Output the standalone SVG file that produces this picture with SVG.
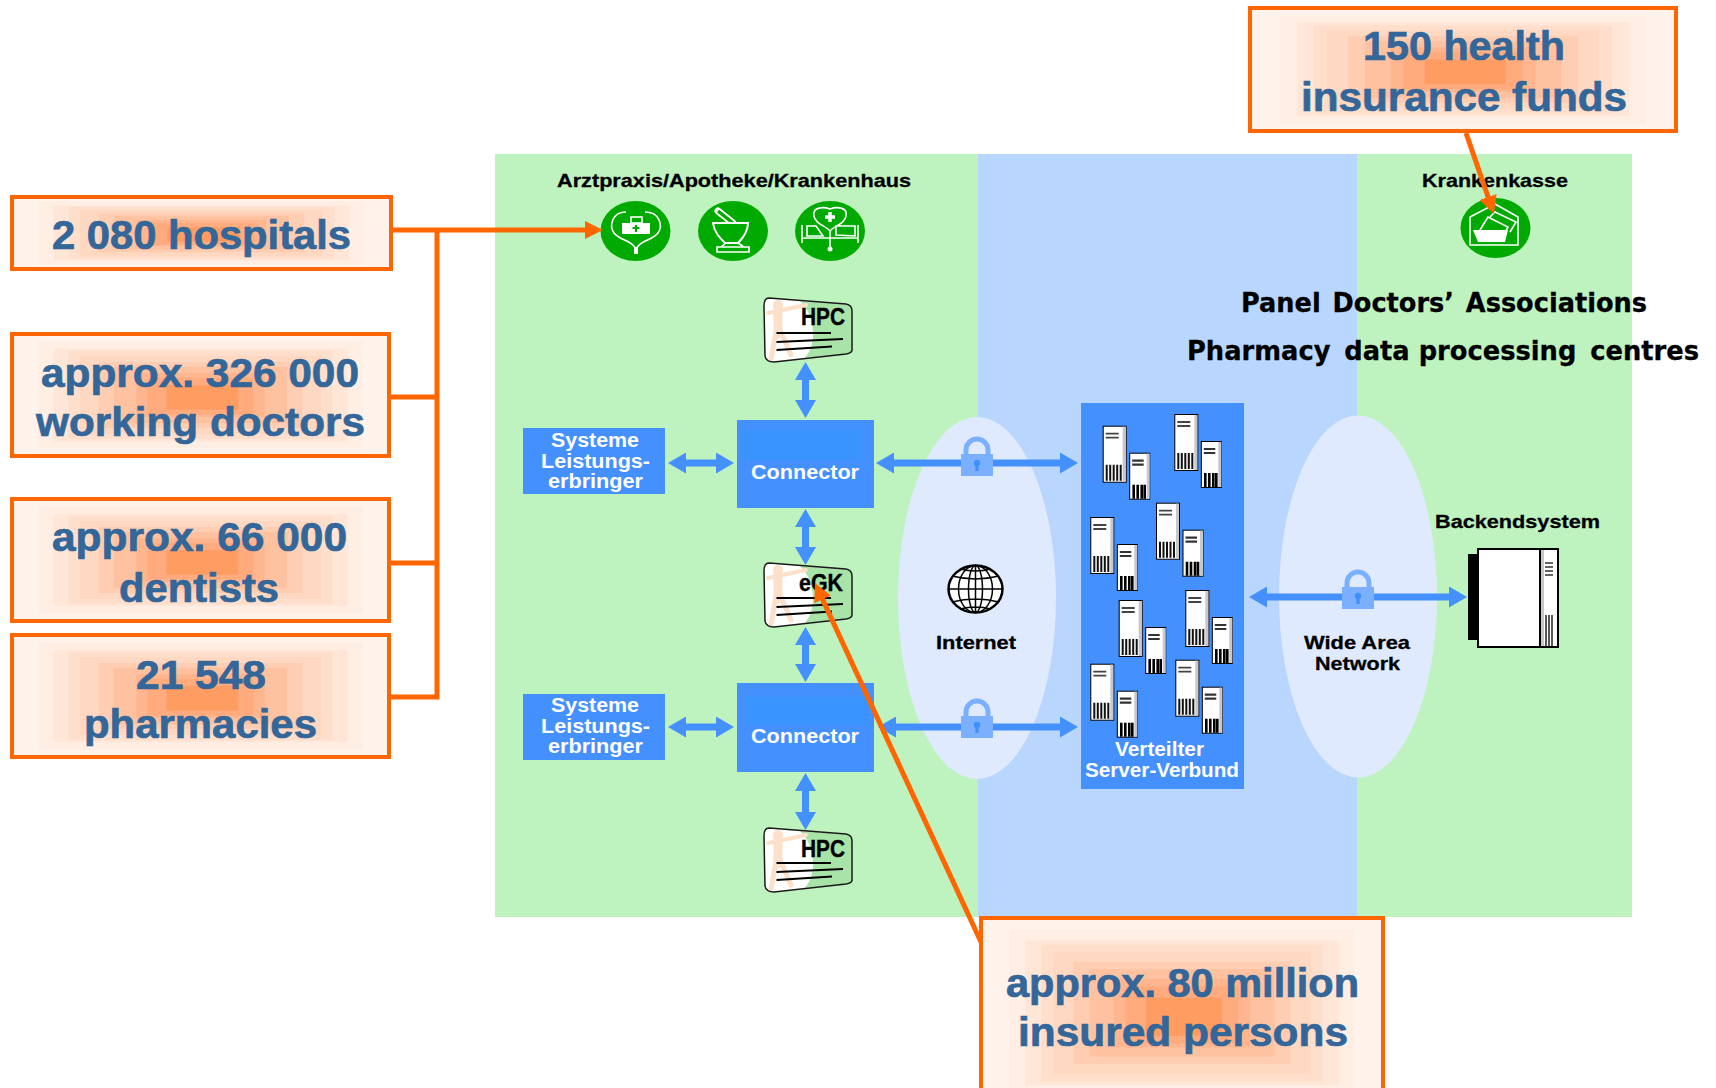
<svg xmlns="http://www.w3.org/2000/svg" width="1716" height="1088" viewBox="0 0 1716 1088">
<style>
text{font-family:"Liberation Sans",Arial,sans-serif;font-weight:700}
.call{font-size:41px;fill:#336699;stroke:#336699;stroke-width:.7px}
.lab{font-size:19px;fill:#000;stroke:#000;stroke-width:.3px}
.wh{font-size:20px;fill:#fff}
.card{font-size:24px;fill:#000;stroke:#000;stroke-width:.4px}
.dj{font-family:"DejaVu Sans",sans-serif;font-size:26px;fill:#000;stroke:#000;stroke-width:.3px}
.box{fill:none;stroke:#ff6600;stroke-width:4}
.blue{fill:#4490ff}
.bl{stroke:#4490ff;stroke-width:7;fill:none;marker-start:url(#ba);marker-end:url(#ba)}
.or{stroke:#ff6600;stroke-width:5;fill:none}
.ic{fill:none;stroke:#fff;stroke-width:1.6}
.iw{fill:#fff}
.ell{fill:#dfeafe}
.grn{fill:#00aa00}
</style>
<defs>
<marker id="ba" markerUnits="userSpaceOnUse" markerWidth="18" markerHeight="21" refX="8" refY="10.5" orient="auto-start-reverse"><path d="M0 0L18 10.5L0 21z" fill="#4490ff"/></marker>
<marker id="oa" markerUnits="userSpaceOnUse" markerWidth="18" markerHeight="18" refX="8" refY="9" orient="auto"><path d="M0 0L18 9L0 18z" fill="#ff6600"/></marker>
<symbol id="glow" viewBox="0 0 100 100" preserveAspectRatio="none">
<rect width="100" height="100" fill="#fff3ec"/>
<rect x="7" y="6" width="86" height="88" fill="#ffeee3"/>
<rect x="11" y="12" width="78" height="76" fill="#ffe6d7"/>
<rect x="15" y="14" width="70" height="72" fill="#ffdfcc"/>
<rect x="18" y="18" width="64" height="64" fill="#ffd8c2"/>
<rect x="23" y="23" width="54" height="54" fill="#ffcdb2"/>
<rect x="27" y="27" width="46" height="46" fill="#ffc2a0"/>
<rect x="33" y="32" width="34" height="36" fill="#ffb58e"/>
<rect x="36" y="36" width="28" height="30" fill="#ffab7e"/>
<rect x="41" y="42" width="19" height="20" fill="#ff9c62"/>
</symbol>
<g id="lock"><path d="M-11 0V-4A11 11 0 0 1 11 -4V0" fill="none" stroke="#7ab0ff" stroke-width="5"/><rect x="-16" y="0" width="32" height="22" fill="#7ab0ff"/><circle cy="9" r="3.2" fill="#3f8fff"/><rect x="-1.6" y="9" width="3.2" height="8" fill="#3f8fff"/></g>
<g id="cardbase">
<path d="M5 0L82 6Q88 7 88 13L88 52Q88 55 82 56L10 64Q2 64 1 58L0 8Q0 0 5 0Z" fill="#fff"/>
<path d="M36 3L82 6Q88 7 88 13L88 52Q88 55 82 56L41 60Q50 48 49 35Q48 14 36 3Z" fill="#a8e4a8"/>
<g fill="none" stroke="#fde0c9" stroke-linecap="round"><path d="M4 15L14 13L42 7" stroke-width="4"/><path d="M14 9V36" stroke-width="9"/><path d="M12 34L7 61M17 34L27 57" stroke-width="5"/></g>
<circle cx="14" cy="7" r="5" fill="#fde0c9"/>
<path d="M12.500 35H67M12.500 44L79 41M12.500 52L68 48.500" stroke="#000" stroke-width="2" fill="none"/>
<path d="M5 0L82 6Q88 7 88 13L88 52Q88 55 82 56L10 64Q2 64 1 58L0 8Q0 0 5 0Z" fill="none" stroke="#1a1a1a" stroke-width="1.500"/>
</g>
<g id="srv">
<rect x="0.500" y="0.500" width="23" height="56" fill="#fff" stroke="#000"/>
<rect x="20" y="1" width="3" height="55" fill="#c8c8c8"/>
<path d="M3 8H16M3 12H16" stroke="#444" stroke-width="1.800"/>
<path d="M4 39V55M7.500 39V55M11 39V55M14.500 39V55M18 39V55" stroke="#111" stroke-width="2"/>
<rect x="27" y="27.500" width="20" height="46" fill="#fff" stroke="#000"/>
<rect x="44" y="28" width="3" height="45" fill="#c8c8c8"/>
<path d="M29.500 35H41M29.500 39H41" stroke="#333" stroke-width="2.200"/>
<path d="M31 59V73M35 59V73M39 59V73M42 59V73" stroke="#000" stroke-width="2.600"/>
</g>
</defs>
<rect width="1716" height="1088" fill="#fff"/>
<g id="panels">
<rect x="495" y="154" width="483" height="763" fill="#bef2be"/>
<rect x="978" y="154" width="379" height="763" fill="#b9d6fe"/>
<rect x="1357" y="154" width="275" height="763" fill="#bef2be"/>
</g>
<g id="labels">
<text class="lab" x="557" y="187" textLength="354" lengthAdjust="spacingAndGlyphs">Arztpraxis/Apotheke/Krankenhaus</text>
<text class="lab" x="1422" y="187" textLength="146" lengthAdjust="spacingAndGlyphs">Krankenkasse</text>
<text class="dj" x="1241" y="312" textLength="406" lengthAdjust="spacingAndGlyphs">Panel <tspan dx="3">Doctors’</tspan> <tspan dx="3">Associations</tspan></text>
<text class="dj" x="1187" y="360" textLength="512" lengthAdjust="spacingAndGlyphs">Pharmacy <tspan dx="5">data</tspan> processing <tspan dx="5">centres</tspan></text>
</g>
<g id="ellipse-internet"><ellipse class="ell" cx="977" cy="598" rx="79" ry="181"/>
<g id="globe" fill="none" stroke="#000" stroke-width="1.500"><ellipse cx="975.500" cy="589" rx="27" ry="23.500" fill="#fff" stroke-width="2.500"/><ellipse cx="975.500" cy="589" rx="17" ry="23.500"/><ellipse cx="975.500" cy="589" rx="7" ry="23.500"/><path d="M975.500 565.500V612.500M948.500 589H1002.500M952 576Q975.500 582 999 576M952 602Q975.500 596 999 602M960 569Q975.500 573 991 569M960 609Q975.500 605 991 609"/></g>
<text class="lab" x="936" y="649" textLength="80" lengthAdjust="spacingAndGlyphs">Internet</text></g>
<g id="ellipse-wan"><ellipse class="ell" cx="1358" cy="596.500" rx="79" ry="181"/>
<text class="lab" x="1304" y="649" textLength="106" lengthAdjust="spacingAndGlyphs">Wide Area</text>
<text class="lab" x="1315" y="670" textLength="85" lengthAdjust="spacingAndGlyphs">Network</text></g>
<g id="icon-praxis"><ellipse class="grn" cx="635.500" cy="231" rx="35" ry="30"/>
<path class="ic" d="M626 212C612 212 609 226 614 233C620 241 636 241 636 252M645 212C660 212 663 226 658 233C652 241 636 241 636 252"/>
<rect class="iw" x="634" y="247" width="4" height="7"/>
<rect class="iw" x="622" y="223" width="28" height="11"/><rect class="ic" x="631" y="217" width="11" height="6"/>
<path d="M636 225V232M632.500 228H639.500" stroke="#00aa00" stroke-width="2.200"/></g>
<g id="icon-apotheke"><ellipse class="grn" cx="733" cy="231" rx="35" ry="30"/>
<path d="M718 211L733 223" stroke="#fff" stroke-width="7" stroke-linecap="round"/><path d="M718 211L733 223" stroke="#00aa00" stroke-width="3.500"/>
<path d="M713 223H748C748 232 743 238 738 243H725C720 238 714 232 713 223Z" fill="#00aa00" stroke="#fff" stroke-width="2"/>
<path class="ic" stroke-width="2" d="M726 243L721 247H744L738 243M717 247H749V252H717Z"/></g>
<g id="icon-krankenhaus"><ellipse class="grn" cx="830" cy="231" rx="35" ry="30"/>
<path class="ic" d="M830 209C822 206 812 208 814 216C815 224 826 226 830 231C834 226 845 224 846 216C848 208 838 206 830 209ZM830 231V248M802 225V243M858 225V243M802 238H858M807 226V236H823L816 226ZM836 226V235L855 236V226Z"/>
<circle class="iw" cx="830" cy="249" r="2.500"/>
<path d="M830 212V222M825 217H835" stroke="#fff" stroke-width="3.500"/></g>
<g id="icon-kasse"><ellipse class="grn" cx="1495.500" cy="228" rx="35" ry="30"/>
<path class="ic" d="M1470 245V217L1495 204L1518 217V245ZM1480 230L1488 217L1508 227L1503 236M1490 217L1495 212L1516 222L1510 232"/>
<path class="iw" d="M1473 230H1508L1505 242H1478Z"/></g>
<g id="card-hpc-1"><use href="#cardbase" x="764" y="298"/><text class="card" x="801" y="325" textLength="44" lengthAdjust="spacingAndGlyphs">HPC</text></g>
<g id="card-egk"><use href="#cardbase" x="764" y="563"/><text class="card" x="799" y="591" textLength="44" lengthAdjust="spacingAndGlyphs">eGK</text></g>
<g id="card-hpc-2"><use href="#cardbase" x="764" y="828"/><text class="card" x="801" y="857" textLength="44" lengthAdjust="spacingAndGlyphs">HPC</text></g>
<g id="systeme-1"><rect class="blue" x="523" y="428" width="142" height="66"/>
<text class="wh" x="551" y="447" textLength="88" lengthAdjust="spacingAndGlyphs">Systeme</text>
<text class="wh" x="541" y="468" textLength="109" lengthAdjust="spacingAndGlyphs">Leistungs-</text>
<text class="wh" x="548" y="488" textLength="95" lengthAdjust="spacingAndGlyphs">erbringer</text></g>
<g id="systeme-2"><rect class="blue" x="523" y="694" width="142" height="66"/>
<text class="wh" x="551" y="712" textLength="88" lengthAdjust="spacingAndGlyphs">Systeme</text>
<text class="wh" x="541" y="733" textLength="109" lengthAdjust="spacingAndGlyphs">Leistungs-</text>
<text class="wh" x="548" y="753" textLength="95" lengthAdjust="spacingAndGlyphs">erbringer</text></g>
<g id="connector-1"><rect class="blue" x="737" y="420" width="137" height="88"/><rect x="742" y="430" width="120" height="30" fill="#3a94ff"/>
<text class="wh" x="751" y="479" textLength="108" lengthAdjust="spacingAndGlyphs">Connector</text></g>
<g id="connector-2"><rect class="blue" x="737" y="683" width="137" height="89"/><rect x="745" y="697" width="122" height="28" fill="#3a94ff"/>
<text class="wh" x="751" y="743" textLength="108" lengthAdjust="spacingAndGlyphs">Connector</text></g>
<g id="server-verbund"><rect class="blue" x="1081" y="403" width="163" height="386"/>
<use href="#srv" x="1102.700" y="425.700"/><use href="#srv" x="1174.300" y="414"/><use href="#srv" x="1090.300" y="517"/><use href="#srv" x="1156" y="502.700"/><use href="#srv" x="1118.700" y="600"/><use href="#srv" x="1185.300" y="590"/><use href="#srv" x="1090.300" y="663.700"/><use href="#srv" x="1175.300" y="659.700"/>
<text class="wh" x="1115" y="756" textLength="89" lengthAdjust="spacingAndGlyphs">Verteilter</text>
<text class="wh" x="1085" y="777" textLength="154" lengthAdjust="spacingAndGlyphs">Server-Verbund</text></g>
<g id="backendsystem"><text class="lab" x="1435" y="528" textLength="165" lengthAdjust="spacingAndGlyphs">Backendsystem</text>
<rect x="1468" y="554" width="11" height="86" fill="#000"/>
<rect x="1478" y="549" width="80" height="98" fill="#fff" stroke="#000" stroke-width="2"/>
<path d="M1540 549V647" stroke="#000" stroke-width="2"/><rect x="1541" y="550" width="3" height="96" fill="#c8c8c8"/>
<path d="M1545 563H1553M1545 567H1553M1545 571H1553M1545 575H1553" stroke="#333" stroke-width="1.400"/>
<path d="M1546 615V646M1549 615V646M1552 615V646" stroke="#222" stroke-width="1.500"/></g>
<g id="connectors-blue">
<line class="bl" x1="805.500" y1="372" x2="805.500" y2="408"/>
<line class="bl" x1="805.500" y1="519" x2="805.500" y2="555"/>
<line class="bl" x1="805.500" y1="637" x2="805.500" y2="672"/>
<line class="bl" x1="805.500" y1="783" x2="805.500" y2="820"/>
<line class="bl" x1="678" y1="463" x2="724" y2="463"/>
<line class="bl" x1="678" y1="727" x2="724" y2="727"/>
<line class="bl" x1="886" y1="463" x2="1068" y2="463"/>
<line class="bl" x1="888" y1="727" x2="1068" y2="727"/>
<line class="bl" x1="1259" y1="597" x2="1457" y2="597"/>
</g>
<g id="locks"><use href="#lock" x="977" y="454"/><use href="#lock" x="977" y="716"/><use href="#lock" x="1358" y="587"/></g>
<g id="callout-hospitals"><use href="#glow" x="12" y="197" width="379" height="72"/><rect class="box" x="12" y="197" width="379" height="72"/>
<text class="call" x="52" y="249" textLength="299" lengthAdjust="spacingAndGlyphs">2 080 hospitals</text></g>
<g id="callout-doctors"><use href="#glow" x="12" y="334" width="377" height="122"/><rect class="box" x="12" y="334" width="377" height="122"/>
<text class="call" x="41" y="387" textLength="318" lengthAdjust="spacingAndGlyphs">approx. 326 000</text>
<text class="call" x="36" y="436" textLength="329" lengthAdjust="spacingAndGlyphs">working doctors</text></g>
<g id="callout-dentists"><use href="#glow" x="12" y="499" width="377" height="122"/><rect class="box" x="12" y="499" width="377" height="122"/>
<text class="call" x="52" y="551" textLength="295" lengthAdjust="spacingAndGlyphs">approx. 66 000</text>
<text class="call" x="119" y="602" textLength="160" lengthAdjust="spacingAndGlyphs">dentists</text></g>
<g id="callout-pharmacies"><use href="#glow" x="12" y="635" width="377" height="122"/><rect class="box" x="12" y="635" width="377" height="122"/>
<text class="call" x="136" y="689" textLength="130" lengthAdjust="spacingAndGlyphs">21 548</text>
<text class="call" x="84" y="738" textLength="233" lengthAdjust="spacingAndGlyphs">pharmacies</text></g>
<g id="callout-funds"><use href="#glow" x="1250" y="8" width="426" height="123"/><rect class="box" x="1250" y="8" width="426" height="123"/>
<text class="call" x="1363" y="60" textLength="202" lengthAdjust="spacingAndGlyphs">150 health</text>
<text class="call" x="1301" y="111" textLength="326" lengthAdjust="spacingAndGlyphs">insurance funds</text></g>
<g id="callout-insured"><use href="#glow" x="981" y="918" width="402" height="190"/><rect class="box" x="981" y="918" width="402" height="190"/>
<text class="call" x="1006" y="997" textLength="353" lengthAdjust="spacingAndGlyphs">approx. 80 million</text>
<text class="call" x="1018" y="1046" textLength="330" lengthAdjust="spacingAndGlyphs">insured persons</text></g>
<g id="connectors-orange">
<path class="or" d="M393 230H437M391 397H437M391 563H437M391 697H439.500M437 230V697"/>
<line class="or" x1="437" y1="230" x2="593" y2="230" marker-end="url(#oa)"/>
<line class="or" x1="1466" y1="133" x2="1490.700" y2="204.500" marker-end="url(#oa)"/>
<line class="or" x1="981" y1="942" x2="819.200" y2="592.100" marker-end="url(#oa)"/>
</g>
</svg>
